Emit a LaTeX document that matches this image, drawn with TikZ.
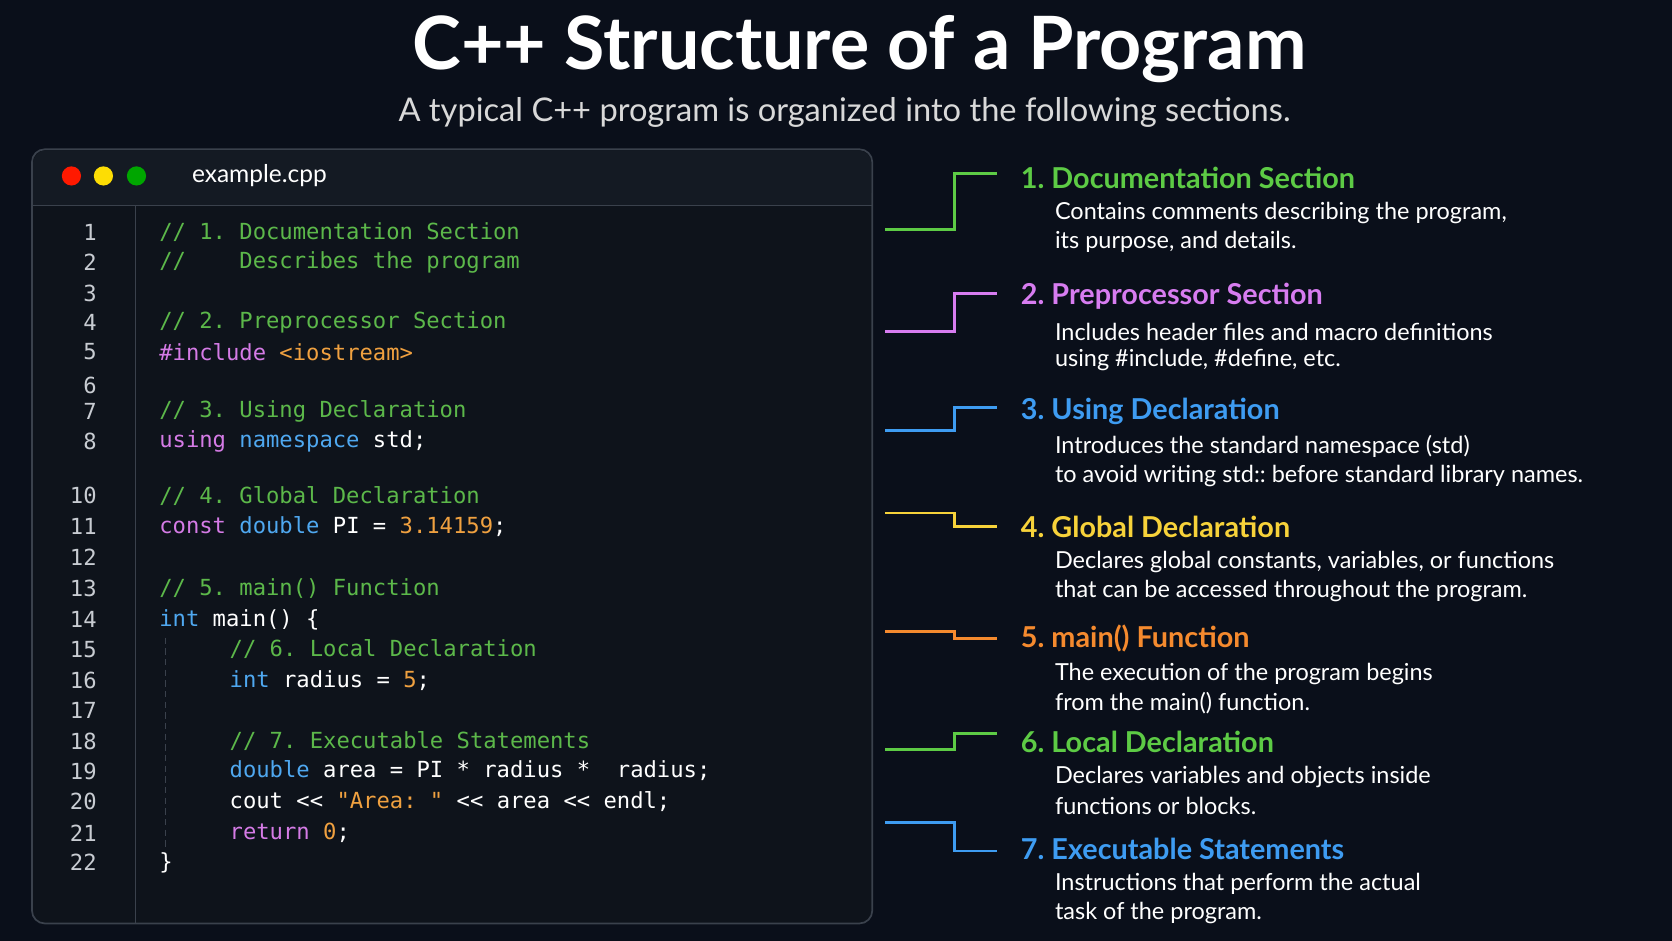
\documentclass[tikz,border=0pt]{standalone}
\usepackage{fontspec}
\setmainfont{Lato}
\newfontfamily\codefont{DejaVu Sans Mono}
\usetikzlibrary{positioning}
\frenchspacing
\definecolor{bg}{HTML}{0A0F1A}
\definecolor{panel}{HTML}{0E131B}
\definecolor{bar}{HTML}{141A23}
\definecolor{edge}{HTML}{3A414C}
\definecolor{cmt}{HTML}{5CB84A}
\definecolor{kw}{HTML}{D57BE6}
\definecolor{ty}{HTML}{4FA8F0}
\definecolor{num}{HTML}{F0A140}
\definecolor{linenum}{HTML}{C8CCD2}
\definecolor{sgreen}{HTML}{5DCB45}
\definecolor{sviolet}{HTML}{D77CF0}
\definecolor{sblue}{HTML}{3E9CF2}
\definecolor{syellow}{HTML}{F7D23A}
\definecolor{sorange}{HTML}{F58A2E}
\tikzset{
  code/.style={anchor=west,inner sep=0pt,text=white,font=\codefont\fontsize{10.4}{12}\selectfont},
  lnum/.style={anchor=east,inner sep=0pt,text=linenum,font=\codefont\fontsize{10.4}{12}\selectfont},
  head/.style={anchor=west,inner sep=0pt,font=\bfseries\fontsize{13.5}{16}\selectfont},
  desc/.style={anchor=west,inner sep=0pt,text=white,font=\fontsize{11}{13}\selectfont},
  conn/.style={line width=1.3pt}
}
\newcommand{\cl}[3]{%
  \node[lnum] (n#1) at (91,#2) {#1};
  \node[code] (c#1) at (149,#2) {#3};}
\newcommand{\sect}[6]{% name, colour, y, heading, line1, line2
  \node[head,text=#2] (h#1) at (957,#3) {#4};
  \node[desc] (d#1a) at (989,#3+33) {#5};
  \node[desc] (d#1b) at (989,#3+60) {#6};}
\begin{document}
\begin{tikzpicture}[x=0.5pt,y=-0.5pt]
\fill[bg] (0,0) rectangle (1568,882);
\useasboundingbox (0,0) rectangle (1568,882);
% title
\node[text=white,font=\bfseries\fontsize{34.5}{40}\selectfont] (title) at (806,46) {C++ Structure of a Program};
\node[text=white!85!black,font=\fontsize{15.3}{18}\selectfont] (sub) at (792,105) {A typical C++ program is organized into the following sections.};
% code window
\draw[edge,fill=panel,rounded corners=6pt,line width=0.8pt] (30,140) rectangle (818,866);
\fill[bar,rounded corners=6pt] (31,141) rectangle (817,192);
\fill[bar] (31,175) rectangle (817,192);
\draw[edge] (30,193) -- (818,193);
\draw[edge] (127,193) -- (127,866);
\fill[red!80!orange] (67,165) circle (9);
\fill[yellow!80!orange] (97,165) circle (9);
\fill[green!65!black] (128,165) circle (9);
\node[anchor=west,text=white,font=\fontsize{11.5}{14}\selectfont] (file) at (173,165) {example.cpp};
\draw[edge,densely dashed] (155,598) -- (155,795);
% code lines
\cl{1}{218}{\color{cmt}// 1. Documentation Section}
\cl{2}{246}{\color{cmt}//\ \ \ \ Describes the program}
\cl{3}{275}{}
\cl{4}{302}{\color{cmt}// 2. Preprocessor Section}
\cl{5}{330}{\color{kw}\#include \color{num}<iostream>}
\cl{6}{361}{}
\cl{7}{386}{\color{cmt}// 3. Using Declaration}
\cl{8}{414}{\color{kw}using \color{ty}namespace \color{white}std;}
\cl{10}{465}{\color{cmt}// 4. Global Declaration}
\cl{11}{494}{\color{kw}const \color{ty}double \color{white}PI = \color{num}3.14159\color{white};}
\cl{12}{523}{}
\cl{13}{552}{\color{cmt}// 5. main() Function}
\cl{14}{581}{\color{ty}int \color{white}main() \{}
\cl{15}{609}{}
\node[code,text=cmt] at (215,609) {// 6. Local Declaration};
\cl{16}{638}{}
\node[code] at (215,638) {\color{ty}int \color{white}radius = \color{num}5\color{white};};
\cl{17}{666}{}
\cl{18}{695}{}
\node[code,text=cmt] at (215,695) {// 7. Executable Statements};
\cl{19}{723}{}
\node[code] at (215,723) {\color{ty}double \color{white}area = PI * radius *\ \ radius;};
\cl{20}{752}{}
\node[code] at (215,752) {cout << \color{num}"Area: " \color{white}<< area << endl;};
\cl{21}{781}{}
\node[code] at (215,781) {\color{kw}return \color{num}0\color{white};};
\cl{22}{809}{\}}
% sections
\sect{1}{sgreen}{167}{1. Documentation Section}{Contains comments describing the program,}{its purpose, and details.}
\sect{2}{sviolet}{278}{2. Preprocessor Section}{Includes header files and macro definitions}{using \#include, \#define, etc.}
\sect{3}{sblue}{386}{3. Using Declaration}{Introduces the standard namespace (std)}{to avoid writing std:: before standard library names.}
\sect{4}{syellow}{494}{4. Global Declaration}{Declares global constants, variables, or functions}{that can be accessed throughout the program.}
\sect{5}{sorange}{599}{5. main() Function}{The execution of the program begins}{from the main() function.}
\sect{6}{sgreen}{696}{6. Local Declaration}{Declares variables and objects inside}{functions or blocks.}
\sect{7}{sblue}{796}{7. Executable Statements}{Instructions that perform the actual}{task of the program.}
% connectors
\foreach \n/\col/\ya/\yb in {1/sgreen/215/163, 2/sviolet/311/275, 3/sblue/404/382,
  4/syellow/481/494, 5/sorange/592/599, 6/sgreen/703/688, 7/sblue/771/798}{
  \coordinate (s\n) at (830,\ya);
  \coordinate (e\n) at (935,\yb);
  \draw[conn,\col] (s\n) -- (895,\ya) -- (895,\yb) -- (e\n);
}
\end{tikzpicture}
\end{document}
